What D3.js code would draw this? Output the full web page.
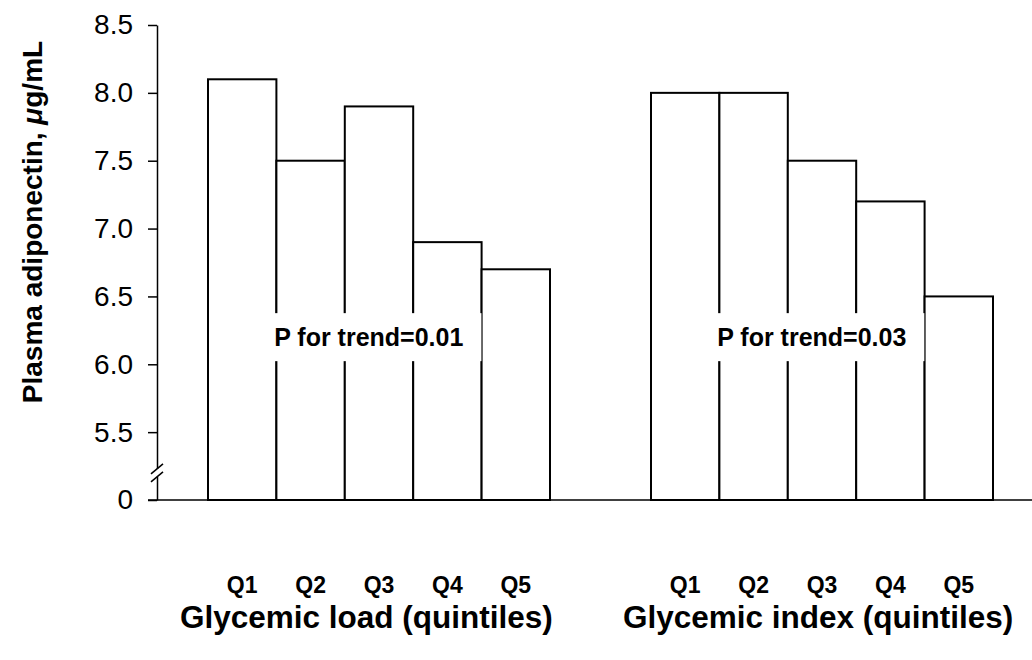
<!DOCTYPE html>
<html>
<head>
<meta charset="utf-8">
<script src="https://cdnjs.cloudflare.com/ajax/libs/d3/7.8.5/d3.min.js"></script>
<style>
  body { margin: 0; background: #fff; }
  svg { font-family: 'Liberation Sans', Arial, sans-serif; display: block; }
</style>
</head>
<body>
<svg id="canvas"></svg>
<script>
const quintiles = ['Q1', 'Q2', 'Q3', 'Q4', 'Q5'];
const groups = ['Glycemic load (quintiles)', 'Glycemic index (quintiles)'];
const loadValues = [8.1, 7.5, 7.9, 6.9, 6.7];
const indexValues = [8.0, 8.0, 7.5, 7.2, 6.5];
const trendLabels = ['P for trend=0.01', 'P for trend=0.03'];
const yTickValues = [5.0, 5.5, 6.0, 6.5, 7.0, 7.5, 8.0, 8.5];
const yTickLabels = ['0', '5.5', '6.0', '6.5', '7.0', '7.5', '8.0', '8.5'];

const seriesByGroup = [loadValues, indexValues];

const width = 1032;
const height = 660;
const axisX = 157;
const axisY = 500;
const axisTop = 25;

const canvas = d3.select('#canvas')
                 .attr('width', width)
                 .attr('height', height)

const y = d3.scaleLinear()
            .domain([5.0, 8.5])
            .range([axisY, axisTop])

const groupScale = d3.scaleBand()
                     .domain(groups)
                     .range([208, 993])
                     .paddingInner(0.228)

const barScale = d3.scaleBand()
                   .domain(quintiles)
                   .range([0, groupScale.bandwidth()])

// bars
groups.forEach((g, gi) => {
  const gx = groupScale(g)
  canvas.append('g')
        .selectAll('rect')
        .data(seriesByGroup[gi])
        .enter()
        .append('rect')
        .attr('x', (d, i) => gx + barScale(quintiles[i]))
        .attr('y', d => y(d))
        .attr('width', barScale.bandwidth())
        .attr('height', d => axisY - y(d))
        .attr('fill', '#fff')
        .attr('stroke', '#000')
        .attr('stroke-width', 2)

  // quintile labels under the bars
  canvas.append('g')
        .selectAll('text')
        .data(quintiles)
        .enter()
        .append('text')
        .attr('x', q => gx + barScale(q) + barScale.bandwidth() / 2)
        .attr('y', 593)
        .attr('text-anchor', 'middle')
        .attr('font-size', 23)
        .attr('font-weight', 'bold')
        .text(q => q)

  // group title, starts a bit left of the first bar
  canvas.append('text')
        .attr('x', gx - 28)
        .attr('y', 628)
        .attr('font-size', 31.5)
        .attr('font-weight', 'bold')
        .text(g)

  // trend label with white box over the bars
  const label = canvas.append('g')
                      .attr('transform', `translate(${gx + groupScale.bandwidth() * 0.47}, ${y(6.2)})`)
  const txt = label.append('text')
                   .attr('text-anchor', 'middle')
                   .attr('dy', '0.35em')
                   .attr('font-size', 25)
                   .attr('font-weight', 'bold')
                   .text(trendLabels[gi])
  const box = txt.node().getBBox()
  label.insert('rect', 'text')
       .attr('x', box.x - 18)
       .attr('y', -24)
       .attr('width', box.width + 36)
       .attr('height', 48)
       .attr('fill', '#fff')
})

// y axis
const yAxis = d3.axisLeft(y)
                .tickValues(yTickValues)
                .tickFormat((d, i) => yTickLabels[i])
                .tickSize(9)
                .tickSizeOuter(0)
                .tickPadding(15)

const yg = canvas.append('g')
                 .attr('transform', `translate(${axisX}, 0)`)
                 .call(yAxis)
yg.select('.domain').attr('stroke', '#000').attr('stroke-width', 1.5)
yg.selectAll('.tick line').attr('stroke', '#000').attr('stroke-width', 1.5)
yg.selectAll('.tick text')
  .attr('fill', '#000')
  .attr('font-size', 28)
  .attr('font-family', "'Liberation Sans', Arial, sans-serif")

// axis break between 0 and 5.5
const breakY = y(5.2)
canvas.append('rect')
      .attr('x', axisX - 3)
      .attr('y', breakY - 4)
      .attr('width', 6)
      .attr('height', 8)
      .attr('fill', '#fff')
;[-4, 4].forEach(off => {
  canvas.append('line')
        .attr('x1', axisX - 6)
        .attr('y1', breakY + off + 5)
        .attr('x2', axisX + 6)
        .attr('y2', breakY + off - 5)
        .attr('stroke', '#000')
        .attr('stroke-width', 1.5)
})

// x axis line
canvas.append('line')
      .attr('x1', axisX - 9)
      .attr('x2', width)
      .attr('y1', y(5.0))
      .attr('y2', y(5.0))
      .attr('stroke', '#000')
      .attr('stroke-width', 1.5)

// y axis title
const ytitle = canvas.append('text')
                     .attr('transform', `translate(42, 222) rotate(-90)`)
                     .attr('text-anchor', 'middle')
                     .attr('font-size', 28)
                     .attr('font-weight', 'bold')
ytitle.append('tspan').text('Plasma adiponectin, ')
ytitle.append('tspan').attr('font-style', 'italic').text('\u03bc')
ytitle.append('tspan').text('g/mL')
</script>
</body>
</html>
